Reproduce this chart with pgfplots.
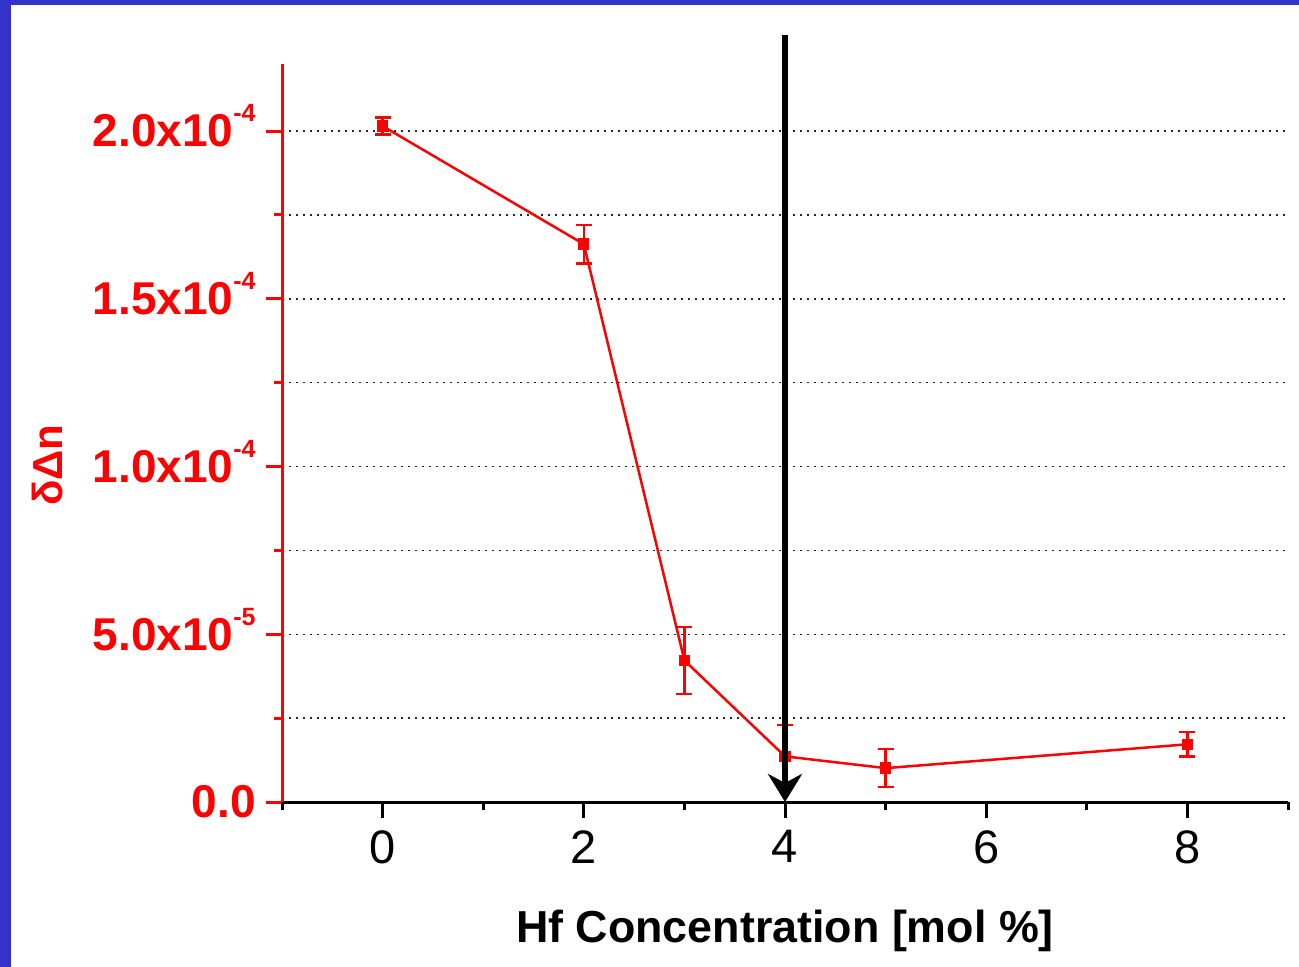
\documentclass[border=0pt]{standalone}
\usepackage{fontspec}
\setmainfont{Liberation Sans}
\usepackage{pgfplots}
\pgfplotsset{compat=1.18}
\usetikzlibrary{arrows.meta}
\definecolor{frameblue}{RGB}{51,51,204}
\newcommand{\sups}[1]{\smash{\raisebox{12.5pt}{\fontsize{12.5}{12.5}\selectfont #1}}}
\begin{document}
\begin{tikzpicture}
\path[use as bounding box] (0pt,0pt) rectangle (649.5pt,-483.5pt);
\fill[white] (0pt,0pt) rectangle (649.5pt,-483.5pt);
\fill[frameblue] (0pt,0pt) rectangle (649.5pt,-2.5pt);
\fill[frameblue] (0pt,0pt) rectangle (5.5pt,-483.5pt);
\begin{axis}[
  at={(141pt,-401pt)}, anchor=south west,
  width=503pt, height=369pt, scale only axis,
  clip=false,
  xmin=-1, xmax=9, ymin=0, ymax=2.2e-4,
  axis lines*=left,
  x axis line style={black, line width=1.5pt},
  y axis line style={red, line width=1.5pt},
  tick align=outside,
  major tick length=8pt, minor tick length=4pt,
  xtick={0,2,4,6,8}, xticklabels={0,2,4,6,8},
  minor xtick={-1,1,3,5,7,9},
  x tick style={black, line width=1.5pt},
  y tick style={red, line width=1.5pt},
  ytick={0,5e-5,1e-4,1.5e-4,2e-4},
  minor ytick={2.5e-5,7.5e-5,1.25e-4,1.75e-4},
  yticklabels={0.0, 5.0x10\sups{-5}, 1.0x10\sups{-4}, 1.5x10\sups{-4}, 2.0x10\sups{-4}},
  scaled y ticks=false,
  xticklabel style={font=\fontsize{23.5}{23.5}\selectfont, text=black, inner sep=0pt, anchor=north, yshift=-6pt},
  yticklabel style={font=\fontsize{23}{23}\selectfont\bfseries, text=red, inner sep=0pt, anchor=east, xshift=-5pt},
  ymajorgrids, yminorgrids,
  major grid style={black!85, line width=0.75pt, dash pattern=on 0.75pt off 2.75pt},
  minor grid style={black!85, line width=0.75pt, dash pattern=on 0.75pt off 2.75pt},
  xlabel={Hf Concentration [mol \%]},
  xlabel style={at={(axis description cs:0.5,-0.19)}, anchor=base, font=\fontsize{22.4}{22.4}\selectfont\bfseries, text=black, inner sep=0pt},
  ylabel={δΔn},
  ylabel style={at={(axis description cs:-0.2177,0.4566)}, anchor=base, rotate=0, font=\fontsize{21}{21}\selectfont\bfseries, text=red, inner sep=0pt},
]
\addplot[red, line width=1.25pt, mark=square*, mark size=2.2pt,
  error bars/.cd, y dir=both, y explicit,
  error bar style={red, line width=1.25pt},
  error mark options={red, rotate=90, mark size=4pt, line width=1.25pt}]
  coordinates {
  (0,2.015e-4) +- (0,2.5e-6)
  (2,1.663e-4) +- (0,5.7e-6)
  (3,4.22e-5) +- (0,1.0e-5)
  (4,1.36e-5) +- (0,9.4e-6)
  (5,1.01e-5) +- (0,5.7e-6)
  (8,1.72e-5) +- (0,3.7e-6)
  };
\coordinate (arrtop) at (axis cs:4,2.286e-4);
\coordinate (arrbot) at (axis cs:4,0);
\end{axis}
\draw[black, line width=3pt, -{Stealth[length=14pt, width=17pt, inset=4.5pt]}] (arrtop) -- (arrbot);
\end{tikzpicture}
\end{document}
